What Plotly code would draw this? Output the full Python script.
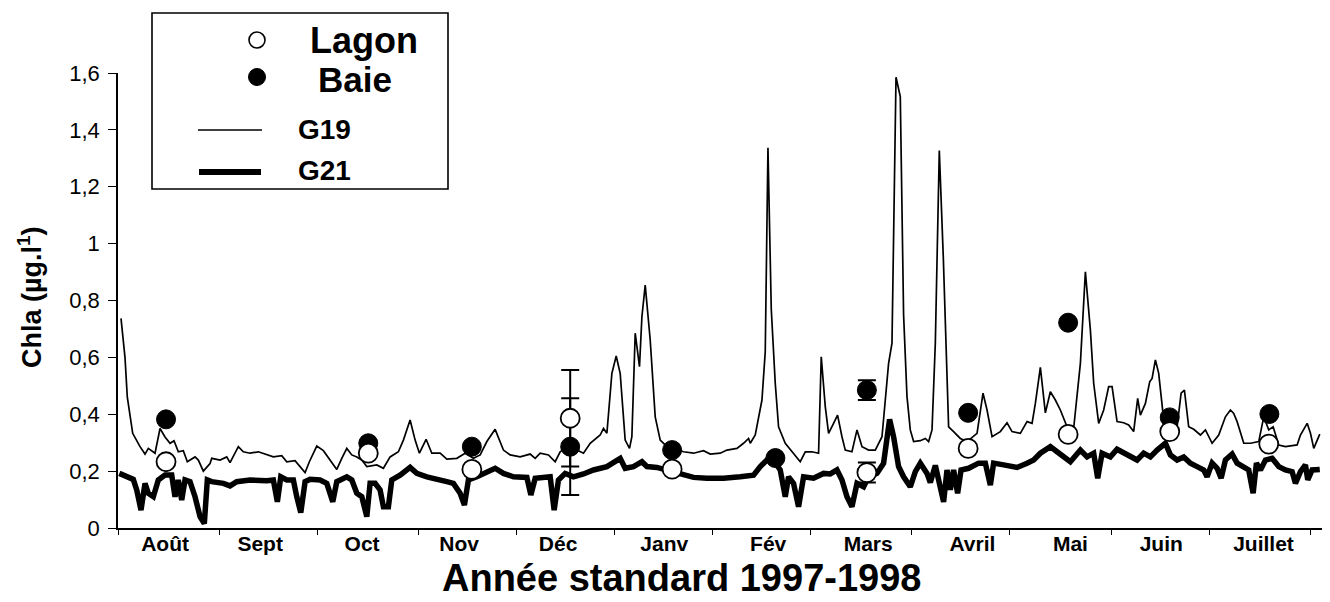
import plotly.graph_objects as go

# ---------------- data ----------------
# x = day of the standard year counted from 1 August 1997
g19_points = [
    (0.92, 0.737), (2.14, 0.60), (2.85, 0.46), (4.50, 0.333), (6.74, 0.286), (8.27, 0.26),
    (9.28, 0.28), (11.33, 0.263), (12.86, 0.35), (14.39, 0.32), (15.92, 0.298), (17.15, 0.307),
    (18.46, 0.268), (19.99, 0.272), (21.22, 0.233), (23.58, 0.25), (24.59, 0.239), (26.12, 0.20),
    (28.17, 0.227), (28.69, 0.245), (31.23, 0.239), (33.28, 0.25), (34.29, 0.23), (36.83, 0.286),
    (38.36, 0.268), (40.42, 0.263), (42.96, 0.268), (45.53, 0.257), (47.55, 0.25), (50.12, 0.254),
    (51.65, 0.233), (54.19, 0.237), (57.26, 0.195), (58.57, 0.233), (60.84, 0.288), (62.86, 0.272),
    (64.91, 0.239), (66.96, 0.206), (68.49, 0.245), (70.02, 0.28), (71.55, 0.257), (73.09, 0.25),
    (74.62, 0.239), (76.15, 0.216), (79.21, 0.222), (81.23, 0.21), (83.28, 0.25), (85.82, 0.268),
    (87.35, 0.309), (89.40, 0.38), (90.94, 0.309), (92.25, 0.263), (94.30, 0.312), (96.05, 0.263),
    (98.59, 0.263), (100.64, 0.242), (103.70, 0.245), (106.24, 0.263), (108.79, 0.245), (110.84, 0.257),
    (112.89, 0.304), (115.43, 0.347), (117.97, 0.274), (120.02, 0.257), (123.08, 0.25), (126.15, 0.26),
    (127.68, 0.245), (129.21, 0.263), (131.75, 0.257), (133.80, 0.233), (135.33, 0.268), (138.39, 0.292),
    (140.44, 0.274), (142.47, 0.263), (144.52, 0.298), (147.58, 0.327), (148.59, 0.35), (149.63, 0.333),
    (151.16, 0.544), (152.48, 0.605), (153.70, 0.544), (155.23, 0.309), (156.55, 0.28), (157.28, 0.321),
    (158.30, 0.685), (159.00, 0.626), (159.61, 0.567), (160.35, 0.743), (161.36, 0.854), (162.89, 0.661),
    (164.42, 0.391), (165.95, 0.309), (167.48, 0.292), (170.02, 0.28), (173.08, 0.268), (176.15, 0.263),
    (179.21, 0.272), (181.26, 0.26), (184.32, 0.263), (186.37, 0.274), (189.43, 0.28), (191.45, 0.298),
    (192.99, 0.315), (193.51, 0.298), (195.04, 0.327), (197.09, 0.45), (198.10, 0.62), (198.93, 1.337),
    (199.94, 0.77), (201.16, 0.509), (202.17, 0.356), (204.22, 0.298), (206.76, 0.263), (208.81, 0.233),
    (210.35, 0.268), (212.40, 0.268), (214.42, 0.263), (215.24, 0.602), (216.47, 0.427), (217.48, 0.333),
    (219.01, 0.368), (220.23, 0.397), (221.58, 0.321), (222.59, 0.274), (224.64, 0.268), (226.18, 0.345),
    (227.71, 0.286), (229.73, 0.274), (231.78, 0.274), (233.83, 0.321), (235.85, 0.579), (236.89, 0.65),
    (238.12, 1.585), (239.43, 1.517), (240.44, 0.75), (241.48, 0.462), (242.49, 0.345), (243.51, 0.304),
    (245.56, 0.307), (247.09, 0.315), (248.10, 0.304), (249.14, 0.345), (250.15, 0.65), (251.37, 1.327),
    (252.60, 0.95), (253.52, 0.6), (254.22, 0.356), (255.75, 0.339), (257.80, 0.315), (259.86, 0.304),
    (262.92, 0.333), (264.75, 0.474), (265.98, 0.415), (267.51, 0.321), (270.05, 0.339), (272.10, 0.37),
    (273.63, 0.339), (276.17, 0.333), (278.23, 0.374), (279.76, 0.368), (280.77, 0.438), (282.30, 0.565),
    (283.83, 0.405), (285.36, 0.479), (286.89, 0.45), (288.42, 0.415), (290.47, 0.356), (292.49, 0.35),
    (294.55, 0.579), (296.08, 0.901), (297.61, 0.696), (298.62, 0.509), (300.15, 0.368), (301.68, 0.415),
    (303.21, 0.497), (304.25, 0.497), (305.78, 0.374), (307.80, 0.37), (309.33, 0.362), (310.86, 0.339),
    (312.09, 0.456), (312.92, 0.397), (314.45, 0.438), (315.76, 0.514), (316.50, 0.526), (317.51, 0.591),
    (318.52, 0.544), (320.05, 0.38), (322.10, 0.362), (324.15, 0.356), (325.38, 0.474), (326.39, 0.485),
    (327.70, 0.356), (329.24, 0.347), (331.29, 0.327), (332.82, 0.345), (334.87, 0.298), (336.89, 0.327),
    (338.94, 0.391), (340.47, 0.415), (341.48, 0.403), (342.52, 0.374), (344.55, 0.298), (346.60, 0.298),
    (349.14, 0.304), (350.67, 0.391), (352.20, 0.345), (353.55, 0.356), (355.26, 0.292), (357.31, 0.286),
    (360.89, 0.292), (361.90, 0.327), (363.96, 0.368), (364.97, 0.333), (365.98, 0.28), (367.82, 0.33),
]

g21_points = [
    (0.40, 0.192), (2.66, 0.18), (4.68, 0.171), (5.73, 0.134), (7.04, 0.063), (8.27, 0.157),
    (9.28, 0.122), (10.81, 0.11), (12.34, 0.169), (14.39, 0.186), (16.44, 0.186), (17.45, 0.11),
    (18.46, 0.169), (19.50, 0.098), (20.51, 0.169), (22.04, 0.163), (23.58, 0.11), (25.11, 0.04),
    (26.42, 0.016), (27.34, 0.169), (28.69, 0.163), (32.24, 0.157), (34.29, 0.148), (36.34, 0.163),
    (40.42, 0.169), (45.53, 0.166), (47.55, 0.169), (48.77, 0.092), (49.82, 0.18), (51.65, 0.169),
    (53.67, 0.169), (54.71, 0.11), (55.94, 0.054), (57.26, 0.163), (58.79, 0.171), (61.85, 0.169),
    (63.90, 0.157), (65.74, 0.092), (66.96, 0.163), (70.02, 0.18), (71.55, 0.169), (73.09, 0.122),
    (74.62, 0.11), (76.15, 0.04), (77.16, 0.157), (78.69, 0.157), (80.22, 0.134), (81.23, 0.075),
    (82.76, 0.075), (83.80, 0.169), (86.34, 0.186), (89.40, 0.213), (91.46, 0.192), (94.52, 0.18),
    (97.58, 0.169), (100.64, 0.163), (102.66, 0.157), (104.71, 0.122), (106.03, 0.081), (107.25, 0.169),
    (109.83, 0.18), (112.89, 0.198), (115.43, 0.21), (117.97, 0.192), (121.03, 0.18), (125.14, 0.178),
    (126.36, 0.116), (127.68, 0.175), (130.22, 0.18), (132.27, 0.18), (133.49, 0.063), (134.81, 0.169),
    (136.86, 0.192), (139.40, 0.18), (142.47, 0.19), (145.53, 0.204), (149.63, 0.216), (153.70, 0.245),
    (155.23, 0.21), (157.77, 0.216), (160.35, 0.233), (161.88, 0.216), (164.94, 0.213), (168.00, 0.204),
    (172.07, 0.19), (176.15, 0.178), (180.25, 0.175), (185.33, 0.175), (190.44, 0.18), (194.52, 0.186),
    (196.57, 0.216), (198.62, 0.239), (200.64, 0.239), (202.69, 0.204), (204.22, 0.11), (205.23, 0.18),
    (206.76, 0.157), (208.29, 0.075), (209.83, 0.18), (212.89, 0.175), (215.95, 0.192), (218.00, 0.19),
    (220.05, 0.204), (221.58, 0.169), (223.11, 0.11), (224.64, 0.075), (226.18, 0.157), (228.20, 0.145),
    (229.73, 0.18), (232.30, 0.192), (234.32, 0.228), (236.16, 0.382), (237.38, 0.321), (238.91, 0.216),
    (240.44, 0.18), (242.49, 0.145), (244.03, 0.198), (245.56, 0.228), (247.61, 0.192), (248.62, 0.16),
    (250.15, 0.22), (251.07, 0.175), (251.89, 0.134), (252.69, 0.092), (253.73, 0.204), (254.74, 0.134),
    (255.75, 0.204), (256.98, 0.122), (258.02, 0.204), (260.34, 0.21), (263.41, 0.228), (265.46, 0.228),
    (266.99, 0.151), (268.00, 0.228), (271.06, 0.222), (275.16, 0.213), (278.23, 0.228), (280.25, 0.239),
    (282.30, 0.263), (285.36, 0.286), (287.41, 0.268), (289.43, 0.25), (291.48, 0.233), (294.55, 0.274),
    (296.60, 0.25), (298.62, 0.263), (299.85, 0.175), (301.19, 0.263), (303.73, 0.25), (305.78, 0.277),
    (308.84, 0.257), (311.90, 0.239), (313.93, 0.263), (315.98, 0.25), (318.03, 0.274), (320.57, 0.298),
    (322.10, 0.257), (324.15, 0.239), (326.18, 0.25), (328.22, 0.228), (330.28, 0.216), (332.30, 0.204),
    (333.33, 0.18), (334.87, 0.228), (336.40, 0.21), (337.63, 0.175), (338.94, 0.239), (340.99, 0.26),
    (342.52, 0.228), (344.05, 0.216), (346.07, 0.204), (347.42, 0.122), (348.43, 0.228), (349.66, 0.204),
    (351.19, 0.239), (353.24, 0.245), (355.26, 0.216), (357.31, 0.204), (359.36, 0.198), (360.37, 0.157),
    (361.90, 0.198), (363.43, 0.222), (364.14, 0.169), (365.48, 0.204), (367.82, 0.206),
]

lagon_day = [14.7, 76.6, 108.3, 138.4, 169.6, 229.2, 260.2, 290.8, 321.9, 352.2]
lagon_chla = [0.233, 0.263, 0.206, 0.386, 0.207, 0.195, 0.28, 0.329, 0.339, 0.295]
lagon_err = [None, None, None, 0.17, None, 0.035, None, None, None, None]

baie_day = [14.7, 76.6, 108.3, 138.4, 169.6, 201.2, 229.2, 260.2, 290.8, 321.9, 352.4]
baie_chla = [0.382, 0.298, 0.286, 0.286, 0.274, 0.246, 0.485, 0.405, 0.722, 0.389, 0.401]
baie_err = [None, None, None, 0.17, None, None, 0.035, None, None, None, None]

month_labels = ["Août", "Sept", "Oct", "Nov", "Déc", "Janv", "Fév", "Mars", "Avril", "Mai", "Juin", "Juillet"]
month_label_day = [14.4, 43.5, 74.7, 104.4, 134.7, 167.2, 199.0, 229.6, 261.5, 291.5, 319.3, 350.6]
month_tick_day = [0, 31, 61, 92, 122, 152, 182, 212, 243, 273, 304, 334, 365]

y_tickvals = [0, 0.2, 0.4, 0.6, 0.8, 1.0, 1.2, 1.4, 1.6]
y_ticktext = ["0", "0,2", "0,4", "0,6", "0,8", "1", "1,2", "1,4", "1,6"]

g19_day, g19_chla = [list(t) for t in zip(*g19_points)]
g21_day, g21_chla = [list(t) for t in zip(*g21_points)]

# ---------------- layout geometry ----------------
W, H = 1330, 602
L, R, T, B = 118, 8, 73, 74
PW, PH = W - L - R, H - T - B
FONT = "Liberation Sans, Arial, Helvetica, sans-serif"


def xp(px):
    return (px - L) / PW


def yp(py):
    return (H - B - py) / PH


fig = go.Figure()

fig.add_trace(go.Scatter(x=g21_day, y=g21_chla, mode="lines",
                         line=dict(color="black", width=5.5), name="G21", showlegend=False))
fig.add_trace(go.Scatter(x=g19_day, y=g19_chla, mode="lines",
                         line=dict(color="black", width=1.7), name="G19", showlegend=False))
fig.add_trace(go.Scatter(x=baie_day, y=baie_chla, mode="markers", name="Baie", showlegend=False,
                         marker=dict(size=19, color="black", line=dict(color="black", width=1)),
                         error_y=dict(type="data", array=baie_err, symmetric=True,
                                      color="black", thickness=2, width=9)))
fig.add_trace(go.Scatter(x=lagon_day, y=lagon_chla, mode="markers", name="Lagon", showlegend=False,
                         marker=dict(size=19, color="white", line=dict(color="black", width=1.8)),
                         error_y=dict(type="data", array=lagon_err, symmetric=True,
                                      color="black", thickness=2, width=9)))

shapes = [
    dict(type="rect", xref="paper", yref="paper", x0=xp(152), x1=xp(448), y0=yp(189), y1=yp(13),
         line=dict(color="black", width=1.6), fillcolor="white", layer="above"),
    dict(type="circle", xref="paper", yref="paper", xsizemode="pixel", ysizemode="pixel",
         xanchor=xp(257), yanchor=yp(40), x0=-8, x1=8, y0=-8, y1=8,
         fillcolor="white", line=dict(color="black", width=1.6)),
    dict(type="circle", xref="paper", yref="paper", xsizemode="pixel", ysizemode="pixel",
         xanchor=xp(257), yanchor=yp(77), x0=-8.5, x1=8.5, y0=-8.5, y1=8.5,
         fillcolor="black", line=dict(color="black", width=1)),
    dict(type="line", xref="paper", yref="paper", x0=xp(198), x1=xp(262), y0=yp(130), y1=yp(130),
         line=dict(color="black", width=1.5)),
    dict(type="line", xref="paper", yref="paper", x0=xp(199), x1=xp(261), y0=yp(172), y1=yp(172),
         line=dict(color="black", width=6)),
]

annotations = [
    dict(text="<b>Lagon</b>", x=xp(308), y=yp(40), xanchor="left", yanchor="middle",
         font=dict(size=36, family=FONT, color="black")),
    dict(text="<b>Baie</b>", x=xp(316), y=yp(80), xanchor="left", yanchor="middle",
         font=dict(size=35, family=FONT, color="black")),
    dict(text="<b>G19</b>", x=xp(296), y=yp(129), xanchor="left", yanchor="middle",
         font=dict(size=28, family=FONT, color="black")),
    dict(text="<b>G21</b>", x=xp(296), y=yp(170), xanchor="left", yanchor="middle",
         font=dict(size=28, family=FONT, color="black")),
    dict(text="<b>Chla (µg.l<sup>1</sup>)</b>", x=xp(30), y=yp(297), textangle=-90,
         xanchor="center", yanchor="middle", font=dict(size=27, family=FONT, color="black")),
    dict(text="<b>Année standard 1997-1998</b>", x=xp(681), y=yp(601),
         xanchor="center", yanchor="bottom", font=dict(size=38, family=FONT, color="black")),
]
for a in annotations:
    a.update(xref="paper", yref="paper", showarrow=False)

fig.update_layout(
    width=W, height=H,
    margin=dict(l=L, r=R, t=T, b=B, pad=0),
    paper_bgcolor="white", plot_bgcolor="white",
    showlegend=False,
    shapes=shapes,
    annotations=annotations,
    font=dict(family=FONT, color="black"),
)

fig.update_xaxes(
    range=[0, 368.5], showgrid=False, zeroline=False,
    showline=True, linecolor="black", linewidth=1.5,
    tickmode="array", tickvals=month_label_day,
    ticktext=["<b>%s</b>" % m for m in month_labels],
    ticks="", tickfont=dict(size=21, family=FONT, color="black"),
    ticklabelstandoff=-4,
    minor=dict(tickmode="array", tickvals=month_tick_day, ticks="outside",
               ticklen=5, tickwidth=1, tickcolor="black", showgrid=False),
)
fig.update_yaxes(
    range=[0, 1.6], showgrid=False, zeroline=False,
    showline=True, linecolor="black", linewidth=1.5,
    tickmode="array", tickvals=y_tickvals, ticktext=y_ticktext,
    ticks="outside", ticklen=8, tickwidth=1.2, tickcolor="black",
    tickfont=dict(size=22, family=FONT, color="black"),
    ticklabelstandoff=4,
)

fig.write_html("out.html")
